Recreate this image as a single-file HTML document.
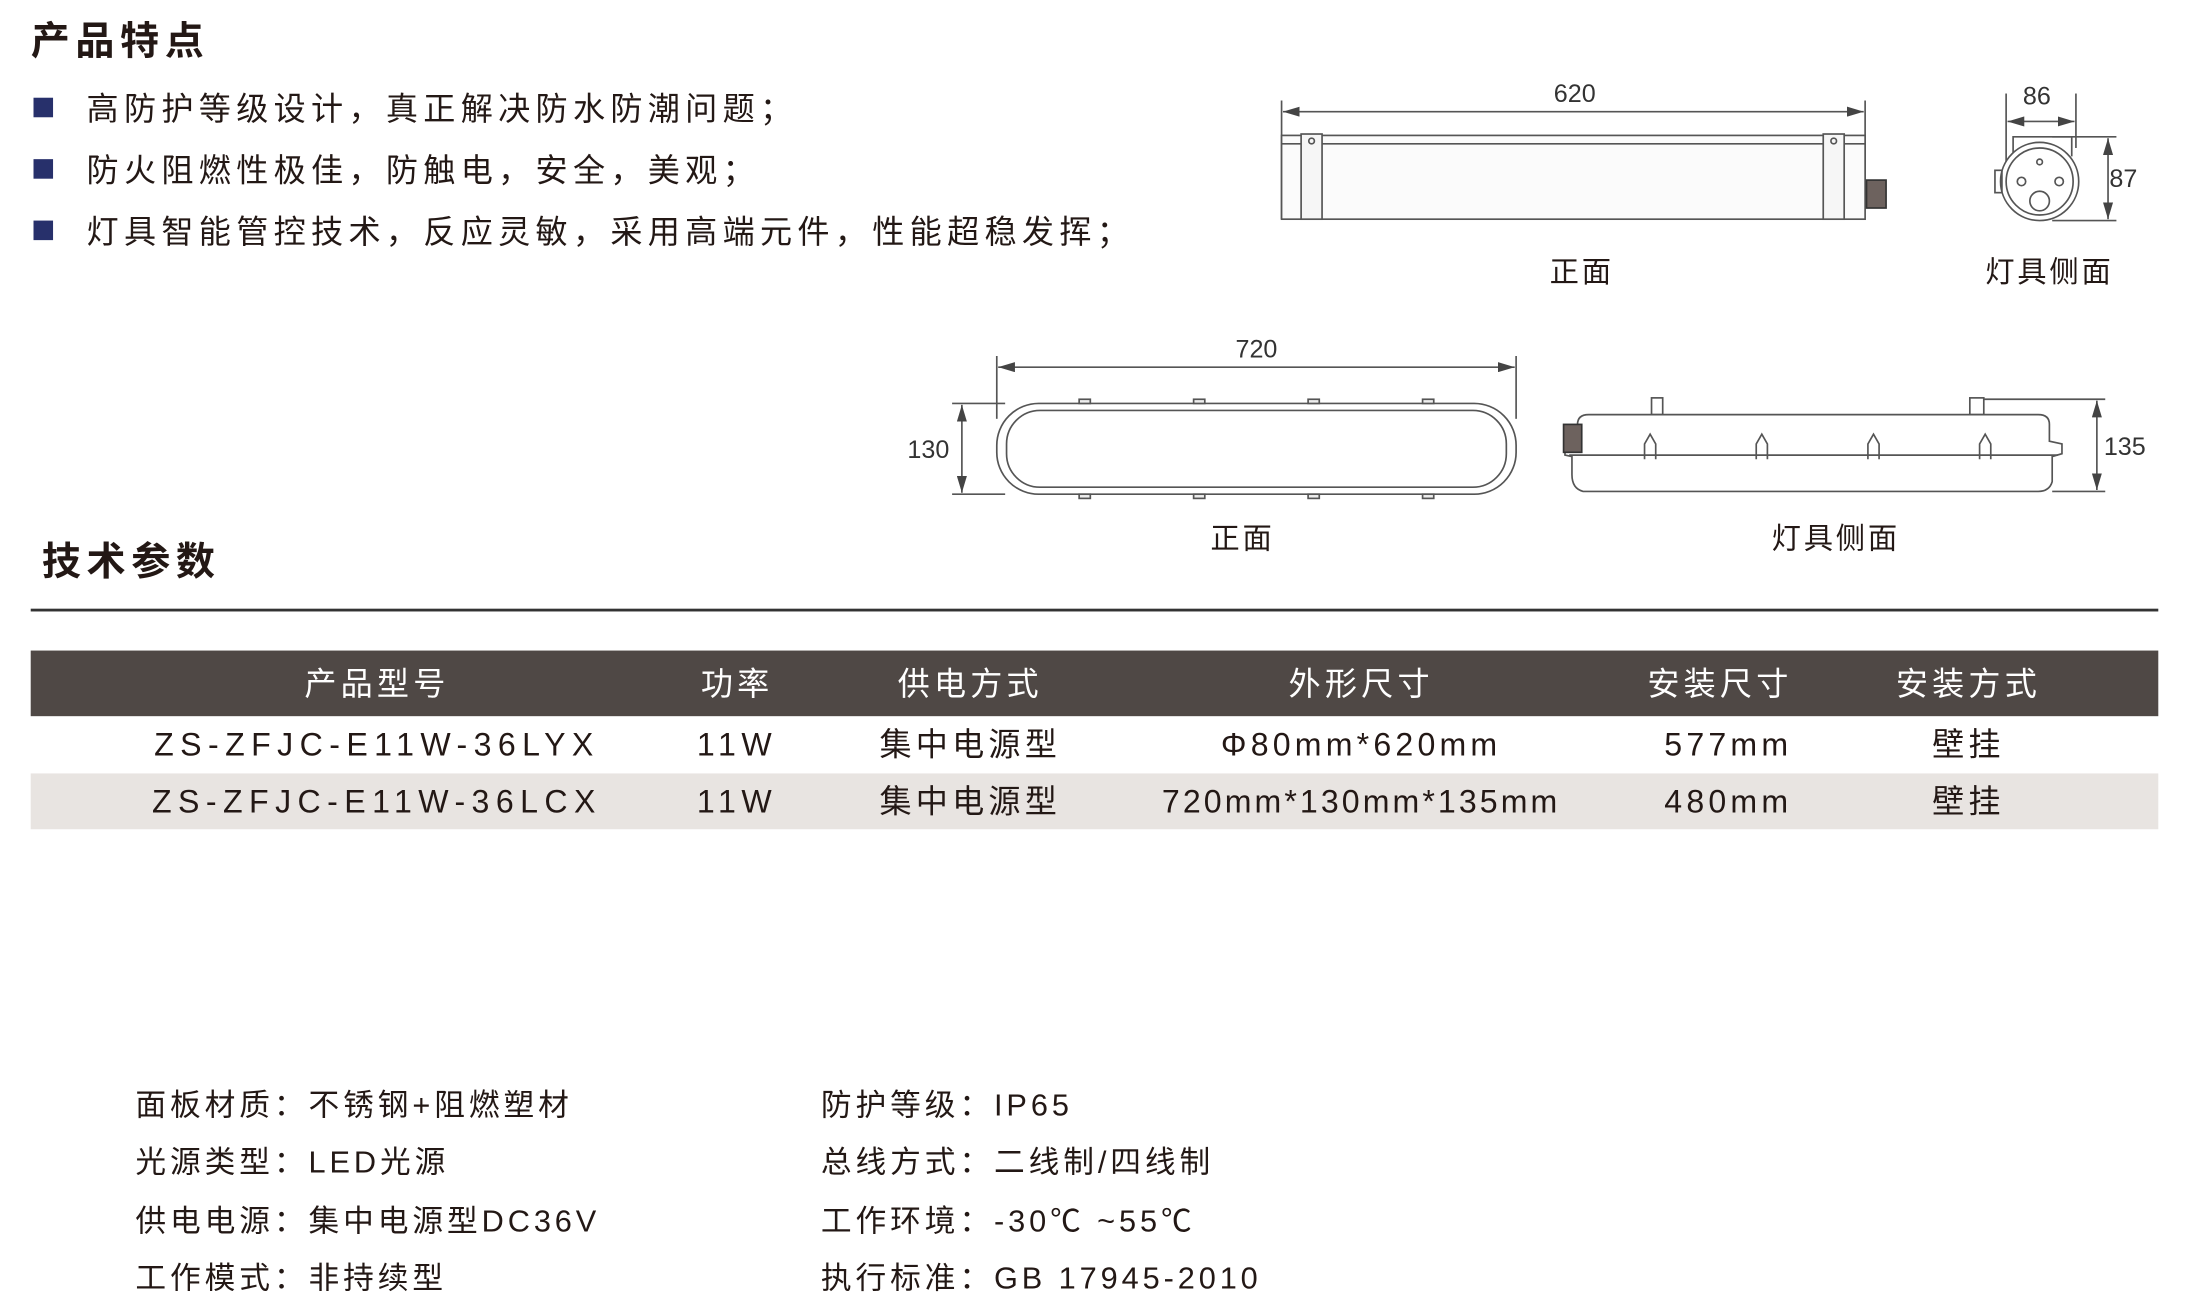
<!DOCTYPE html>
<html><head><meta charset="utf-8"><style>
html,body{margin:0;padding:0;background:#fff;overflow:hidden}
#w{width:1568px;height:934px;position:relative;transform:scale(1.39605);transform-origin:0 0;font-family:"Liberation Sans","Noto Sans CJK SC",sans-serif;color:#231815}
.a{position:absolute;white-space:nowrap}
h2{position:absolute;margin:0;font-size:28px;font-weight:bold;color:#231815;letter-spacing:4px}
.b{position:absolute;left:24px;width:14px;height:14px;background:#27306b}
.t{font-size:23px;line-height:26px;letter-spacing:3.8px}
.c{position:absolute;width:400px;text-align:center;font-size:23px;line-height:28px;letter-spacing:3px;white-space:nowrap}
.h{color:#fff}
.s{font-size:22px;color:#231815;letter-spacing:2.8px}
</style></head><body><div id="w">
<h2 style="left:22px;top:8px">产品特点</h2>
<div class="b" style="top:70px"></div><div class="a t" style="left:62px;top:65px">高防护等级设计，真正解决防水防潮问题；</div>
<div class="b" style="top:114px"></div><div class="a t" style="left:62px;top:109px">防火阻燃性极佳，防触电，安全，美观；</div>
<div class="b" style="top:158px"></div><div class="a t" style="left:62px;top:153px">灯具智能管控技术，反应灵敏，采用高端元件，性能超稳发挥；</div>

<svg class="a" style="left:0;top:0" width="1568" height="420" fill="none" stroke="#555" stroke-width="1.2" font-family="Liberation Sans, sans-serif">
<defs><marker id="m" markerWidth="10" markerHeight="6" refX="10" refY="3" orient="auto-start-reverse"><path d="M0,0L10,3L0,6z" fill="#444" stroke="none"/></marker></defs>
<line x1="918" y1="72" x2="918" y2="157"/><line x1="1336" y1="72" x2="1336" y2="140"/>
<line x1="919" y1="80" x2="1335" y2="80" marker-start="url(#m)" marker-end="url(#m)"/>
<text x="1128" y="73" fill="#333" stroke="none" font-size="18" text-anchor="middle">620</text>
<rect x="918" y="97" width="418" height="60" fill="#fbfbfb"/>
<line x1="918" y1="103" x2="1336" y2="103"/>
<rect x="932" y="96" width="15" height="61" fill="#f6f6f6"/><rect x="1306" y="96" width="15" height="61" fill="#f6f6f6"/>
<circle cx="939.5" cy="101" r="2"/><circle cx="1313.5" cy="101" r="2"/>
<rect x="1337" y="129" width="14" height="20" fill="#6d625e" stroke="#333"/>
<text x="1133" y="202" fill="#231815" stroke="none" font-size="21" letter-spacing="2" text-anchor="middle" font-family="Liberation Sans, Noto Sans CJK SC, sans-serif">正面</text>
<line x1="1437" y1="67" x2="1437" y2="135"/><line x1="1487" y1="67" x2="1487" y2="106"/>
<line x1="1438" y1="87" x2="1486" y2="87" marker-start="url(#m)" marker-end="url(#m)"/>
<text x="1459" y="75" fill="#333" stroke="none" font-size="18" text-anchor="middle">86</text>
<line x1="1470" y1="98" x2="1516" y2="98"/><line x1="1470" y1="158" x2="1516" y2="158"/>
<line x1="1510" y1="99" x2="1510" y2="157" marker-start="url(#m)" marker-end="url(#m)"/>
<text x="1511" y="134" fill="#333" stroke="none" font-size="18">87</text>
<path d="M1442,112 L1442,98 L1484,98 L1484,112"/>
<circle cx="1461" cy="130" r="28" fill="#fff"/><circle cx="1461" cy="130" r="24"/>
<circle cx="1461" cy="116" r="2"/><circle cx="1448" cy="130" r="3"/><circle cx="1475" cy="130" r="3"/><circle cx="1461" cy="144" r="7"/>
<rect x="1429" y="122" width="5" height="16"/>
<text x="1468" y="202" fill="#231815" stroke="none" font-size="21" letter-spacing="2" text-anchor="middle" font-family="Liberation Sans, Noto Sans CJK SC, sans-serif">灯具侧面</text>
<line x1="714" y1="255" x2="714" y2="300"/><line x1="1086" y1="255" x2="1086" y2="300"/>
<line x1="715" y1="263" x2="1085" y2="263" marker-start="url(#m)" marker-end="url(#m)"/>
<text x="900" y="256" fill="#333" stroke="none" font-size="18" text-anchor="middle">720</text>
<line x1="682" y1="289" x2="720" y2="289"/><line x1="682" y1="354" x2="720" y2="354"/>
<line x1="689" y1="290" x2="689" y2="353" marker-start="url(#m)" marker-end="url(#m)"/>
<text x="665" y="328" fill="#333" stroke="none" font-size="18" text-anchor="middle">130</text>
<rect x="714" y="289" width="372" height="65" rx="30" fill="#fff"/>
<rect x="721" y="294" width="358" height="55" rx="24"/>
<g fill="#eee"><rect x="773" y="286" width="8" height="3"/><rect x="855" y="286" width="8" height="3"/><rect x="937" y="286" width="8" height="3"/><rect x="1019" y="286" width="8" height="3"/>
<rect x="773" y="354" width="8" height="3"/><rect x="855" y="354" width="8" height="3"/><rect x="937" y="354" width="8" height="3"/><rect x="1019" y="354" width="8" height="3"/></g>
<text x="890" y="393" fill="#231815" stroke="none" font-size="21" letter-spacing="2" text-anchor="middle" font-family="Liberation Sans, Noto Sans CJK SC, sans-serif">正面</text>
<rect x="1183" y="285" width="8" height="12"/><rect x="1411" y="285" width="10" height="12"/>
<line x1="1421" y1="286" x2="1508" y2="286"/><line x1="1470" y1="352" x2="1508" y2="352"/>
<line x1="1502" y1="287" x2="1502" y2="351" marker-start="url(#m)" marker-end="url(#m)"/>
<text x="1507" y="326" fill="#333" stroke="none" font-size="18">135</text>
<path d="M1130,318 L1130,304 Q1130,297 1138,297 L1460,297 Q1468,297 1468,304 L1468,316 L1477,318 L1477,325 L1470,327 L1470,345 Q1468,352 1460,352 L1134,352 Q1126,350 1126,340 L1126,327 L1121,326 L1121,318 Z" fill="#fff"/>
<line x1="1124" y1="326" x2="1474" y2="326"/>
<rect x="1120" y="304" width="13" height="20" fill="#6d625e" stroke="#333"/>
<path d="M1178,329 L1178,318 L1182,311 L1186,318 L1186,329 M1258,329 L1258,318 L1262,311 L1266,318 L1266,329 M1338,329 L1338,318 L1342,311 L1346,318 L1346,329 M1418,329 L1418,318 L1422,311 L1426,318 L1426,329"/>
<text x="1315" y="393" fill="#231815" stroke="none" font-size="21" letter-spacing="2" text-anchor="middle" font-family="Liberation Sans, Noto Sans CJK SC, sans-serif">灯具侧面</text>
</svg>

<h2 style="left:30px;top:381px">技术参数</h2>
<div class="a" style="left:22px;top:436px;width:1524px;height:2px;background:#333"></div>
<div class="a" style="left:22px;top:466px;width:1524px;height:47px;background:#4f4845"></div>
<div class="a" style="left:22px;top:554px;width:1524px;height:40px;background:#e8e4e1"></div>

<div class="c h" style="left:70px;top:476px">产品型号</div>
<div class="c h" style="left:328px;top:476px">功率</div>
<div class="c h" style="left:495px;top:476px">供电方式</div>
<div class="c h" style="left:775px;top:476px">外形尺寸</div>
<div class="c h" style="left:1032px;top:476px">安装尺寸</div>
<div class="c h" style="left:1210px;top:476px">安装方式</div>

<div class="c" style="left:70px;top:519px;letter-spacing:4.6px">ZS-ZFJC-E11W-36LYX</div>
<div class="c" style="left:328px;top:519px;letter-spacing:4px">11W</div>
<div class="c" style="left:495px;top:519px">集中电源型</div>
<div class="c" style="left:775px;top:519px;letter-spacing:3px">Φ80mm*620mm</div>
<div class="c" style="left:1038px;top:519px;letter-spacing:3px">577mm</div>
<div class="c" style="left:1210px;top:519px">壁挂</div>

<div class="c" style="left:70px;top:560px;letter-spacing:4.6px">ZS-ZFJC-E11W-36LCX</div>
<div class="c" style="left:328px;top:560px;letter-spacing:4px">11W</div>
<div class="c" style="left:495px;top:560px">集中电源型</div>
<div class="c" style="left:775px;top:560px;letter-spacing:2.2px">720mm*130mm*135mm</div>
<div class="c" style="left:1038px;top:560px;letter-spacing:3px">480mm</div>
<div class="c" style="left:1210px;top:560px">壁挂</div>

<div class="a s" style="left:97px;top:774px">面板材质：不锈钢+阻燃塑材</div>
<div class="a s" style="left:97px;top:815px">光源类型：LED光源</div>
<div class="a s" style="left:97px;top:857px">供电电源：集中电源型DC36V</div>
<div class="a s" style="left:97px;top:898px">工作模式：非持续型</div>
<div class="a s" style="left:588px;top:774px">防护等级：IP65</div>
<div class="a s" style="left:588px;top:815px">总线方式：二线制/四线制</div>
<div class="a s" style="left:588px;top:857px">工作环境：-30℃ ~55℃</div>
<div class="a s" style="left:588px;top:898px">执行标准：GB 17945-2010</div>
</div></body></html>
